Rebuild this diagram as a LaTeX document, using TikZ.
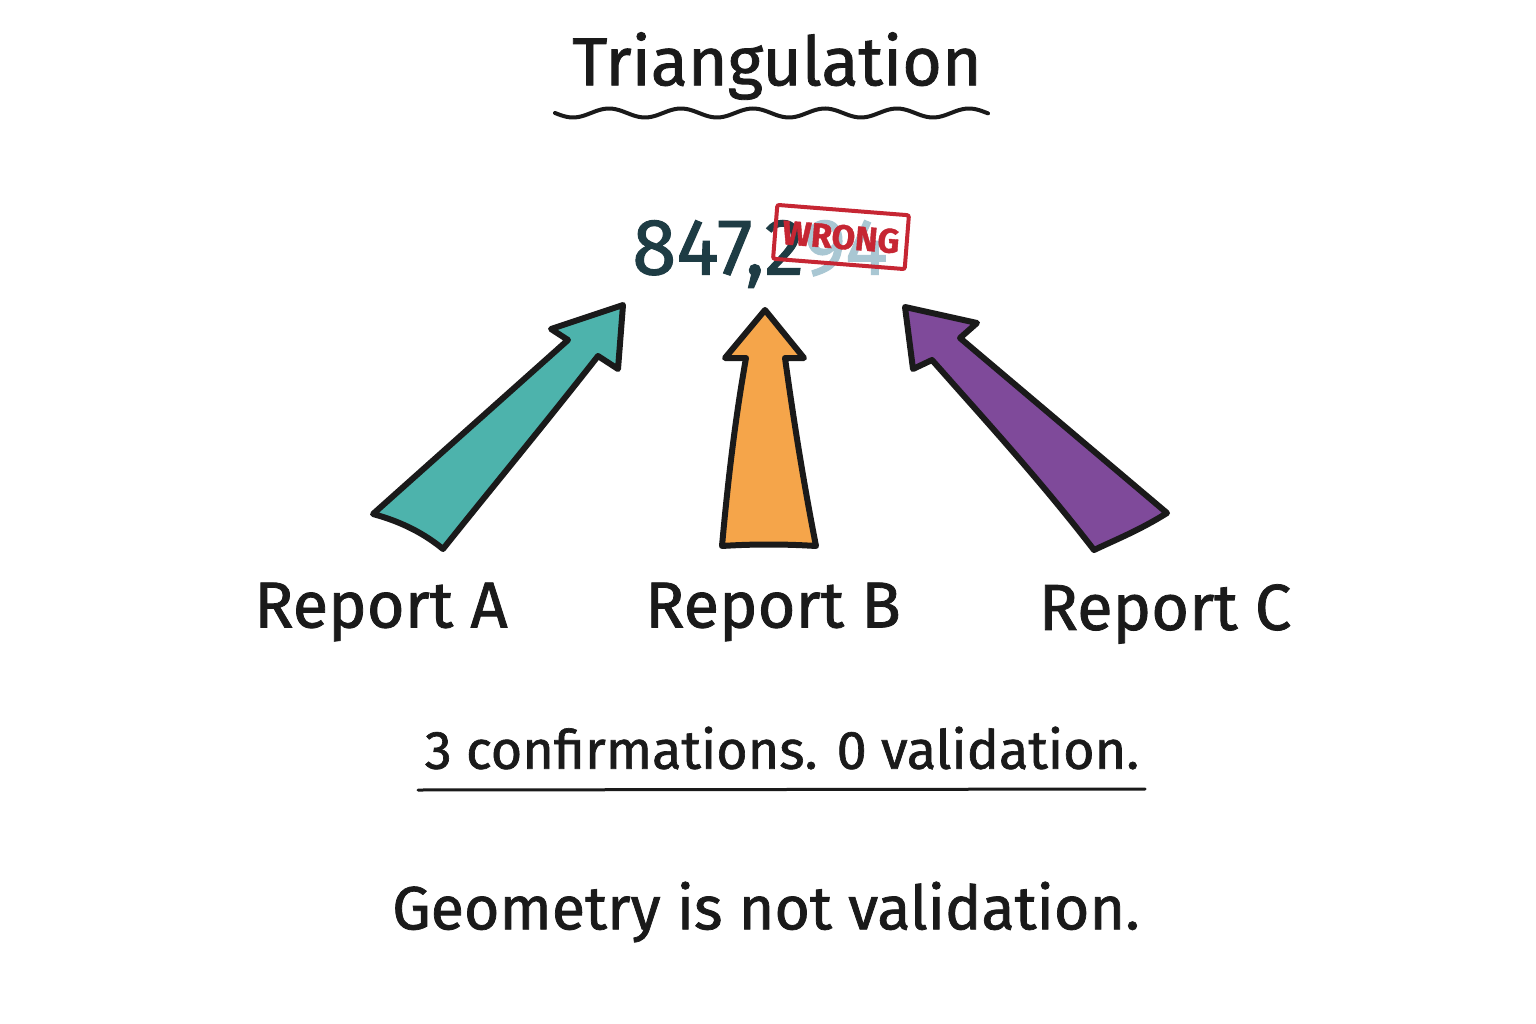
\documentclass[tikz,border=0pt]{standalone}
\usepackage{fontspec}
\setmainfont{Fira Sans}[FakeBold=1.2]
\definecolor{ink}{HTML}{1A1A1A}
\definecolor{numink}{HTML}{1E3C44}
\definecolor{numfade}{HTML}{A9C7D3}
\definecolor{stamp}{HTML}{C62633}
\definecolor{tealA}{HTML}{4DB3AC}
\definecolor{orangeB}{HTML}{F5A54A}
\definecolor{purpleC}{HTML}{7F4A9A}
\begin{document}
\begin{tikzpicture}[x=1pt,y=-1pt,
  lbl/.style={text=ink, inner sep=0pt, anchor=center},
  fatarrow/.style={draw=ink, line width=6pt, line join=round, line cap=round},
  penline/.style={draw=ink, line width=3pt, line cap=round}]
\useasboundingbox (0,0) rectangle (1536,1024);
\fill[white] (0,0) rectangle (1536,1024);

% title
\node[lbl, font=\fontsize{68}{72}\selectfont] (title) at (777,66) {Triangulation};
\draw[penline, line width=4pt] plot[domain=555:988, samples=150] (\x, {113 + 4.5*sin((\x-555)*5.0)});

% number and stamp
\node[lbl, font=\fontsize{80}{86}\selectfont, text=numink] (num) at (760,254) {847,2\textcolor{numfade}{94}};
\node[draw=stamp, line width=4pt, rounded corners=2pt, rotate=-4.5, minimum width=132pt, minimum height=54pt, inner sep=0pt, text=stamp, font=\fontsize{34}{36}\selectfont\bfseries] (stampbox) at (841,237) {WRONG};

% arrows
\path[fatarrow, fill=tealA] (373,514) -- (568,340) -- (551,329) -- (623,305) -- (618,369) -- (598,356)
   .. controls (540,430) and (490,490) .. (443,549)
   .. controls (420,530) and (395,520) .. cycle;
\path[fatarrow, fill=orangeB] (765,310) -- (804,358) -- (785,358)
   .. controls (795,430) and (805,490) .. (816,546)
   .. controls (785,544) and (752,544) .. (722,546)
   .. controls (728,480) and (735,420) .. (746,358) -- (725,358) -- cycle;
\path[fatarrow, fill=purpleC] (905,307) -- (977,323) -- (960,338) -- (1167,513)
   .. controls (1140,530) and (1115,540) .. (1094,550)
   .. controls (1040,480) and (985,420) .. (932,360) -- (913,369) -- cycle;

% report labels
\node[lbl, font=\fontsize{65}{70}\selectfont] (repA) at (381,612) {Report A};
\node[lbl, font=\fontsize{65}{70}\selectfont] (repB) at (773,612) {Report B};
\node[lbl, font=\fontsize{65}{70}\selectfont] (repC) at (1165,614) {Report C};

% bottom texts
\node[lbl, font=\fontsize{54}{58}\selectfont] (conf) at (782,748) {3 confirmations. 0 validation.};
\coordinate (ulL) at (418,790);
\coordinate (ulR) at (1145,789);
\draw[penline] (ulL) -- (ulR);
\node[lbl, font=\fontsize{61}{66}\selectfont] (geom) at (766,912) {Geometry is not validation.};
\end{tikzpicture}
\end{document}
